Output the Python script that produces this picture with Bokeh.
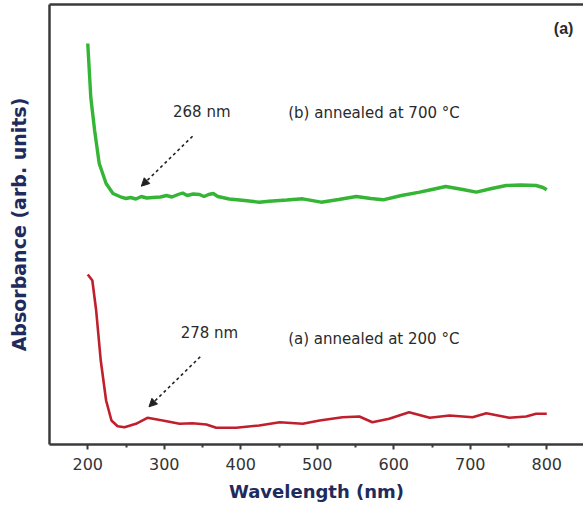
import numpy as np
from bokeh.plotting import figure
from bokeh.models import LinearAxis, FixedTicker, Range1d, Arrow, NormalHead, Label
from bokeh.embed import file_html
from bokeh.resources import INLINE

# ---- data ----
green_nm = [200, 204, 209, 215, 224, 233, 244, 250, 256, 263, 270, 277, 285, 295, 303, 310,
            318, 324, 330, 338, 346, 352, 358, 364, 370, 385, 405, 424, 437, 460, 481, 505,
            528, 551, 570, 586, 610, 634, 650, 668, 690, 708, 728, 747, 766, 786, 795, 800]
green_abs = [4.01, 3.47, 3.14, 2.81, 2.61, 2.51, 2.473, 2.46, 2.47, 2.455, 2.48, 2.465, 2.47, 2.475, 2.49, 2.475,
             2.50, 2.515, 2.49, 2.505, 2.50, 2.48, 2.50, 2.51, 2.48, 2.455, 2.44, 2.423, 2.433, 2.445, 2.457, 2.423,
             2.45, 2.48, 2.46, 2.447, 2.49, 2.523, 2.55, 2.58, 2.55, 2.523, 2.56, 2.59, 2.595, 2.59, 2.57, 2.547]

red_nm = [200, 206, 211, 217, 224, 231, 239, 248, 263, 278, 298, 320, 337, 355, 368, 394,
          424, 451, 481, 503, 533, 555, 572, 594, 620, 647, 673, 703, 721, 751, 773, 786, 800]
red_abs = [1.70, 1.64, 1.34, 0.84, 0.44, 0.24, 0.183, 0.173, 0.207, 0.267, 0.24, 0.207, 0.213, 0.20, 0.167, 0.167,
           0.19, 0.223, 0.207, 0.24, 0.273, 0.28, 0.223, 0.257, 0.323, 0.267, 0.29, 0.273, 0.313, 0.267, 0.28, 0.307, 0.307]

x_ticks = [200, 300, 400, 500, 600, 700, 800]
x_minor = [250, 350, 450, 550, 650, 750]

peak_nm = [268, 278]
peak_text = ["268 nm", "278 nm"]
sample_text = ["(b) annealed at 700 \u00b0C", "(a) annealed at 200 \u00b0C"]
panel_text = "(a)"

GREEN = "#35b535"
RED = "#c01f2c"
AXIS = "#3a3a3a"
NAVY = "#1e2b5c"

p = figure(width=583, height=507, output_backend="svg", toolbar_location=None,
           x_range=Range1d(150, 848), y_range=Range1d(0, 4.4),
           x_axis_location=None, y_axis_location=None,
           min_border_left=49, min_border_right=0, min_border_top=4, min_border_bottom=63)
p.outline_line_color = None
p.xgrid.visible = False
p.ygrid.visible = False
p.background_fill_color = "white"
p.border_fill_color = "white"

xaxis = LinearAxis(ticker=FixedTicker(ticks=x_ticks, minor_ticks=x_minor),
                   axis_label="Wavelength (nm)")
xaxis.axis_line_width = 2.5
xaxis.axis_line_color = AXIS
xaxis.major_tick_line_width = 2
xaxis.major_tick_line_color = AXIS
xaxis.major_tick_in = 0
xaxis.major_tick_out = 5
xaxis.minor_tick_line_width = 2
xaxis.minor_tick_line_color = AXIS
xaxis.minor_tick_in = 0
xaxis.minor_tick_out = 3
xaxis.major_label_text_font = "DejaVu Sans"
xaxis.major_label_text_font_size = "16px"
xaxis.major_label_text_color = "#333333"
xaxis.major_label_standoff = 8
xaxis.axis_label_text_font = "DejaVu Sans"
xaxis.axis_label_text_font_style = "bold"
xaxis.axis_label_text_font_size = "18px"
xaxis.axis_label_text_color = NAVY
xaxis.axis_label_standoff = 8
p.add_layout(xaxis, "below")

yaxis = LinearAxis(ticker=FixedTicker(ticks=[]), axis_label="Absorbance (arb. units)")
yaxis.axis_line_width = 2.5
yaxis.axis_line_color = AXIS
yaxis.major_tick_line_color = None
yaxis.minor_tick_line_color = None
yaxis.major_label_text_font_size = "0px"
yaxis.major_label_standoff = 0
yaxis.axis_label_text_font = "DejaVu Sans"
yaxis.axis_label_text_font_style = "bold"
yaxis.axis_label_text_font_size = "19px"
yaxis.axis_label_text_color = NAVY
yaxis.axis_label_standoff = 20
p.add_layout(yaxis, "left")

top = LinearAxis(ticker=FixedTicker(ticks=[]))
top.axis_line_width = 2.5
top.axis_line_color = AXIS
top.major_tick_line_color = None
top.minor_tick_line_color = None
top.major_label_text_font_size = "0px"
top.major_label_standoff = 0
p.add_layout(top, "above")

p.line(green_nm, green_abs, line_color=GREEN, line_width=3.4)
p.line(red_nm, red_abs, line_color=RED, line_width=2.6)

curves = [(green_nm, green_abs), (red_nm, red_abs)]
for (nm, ab), pk, txt in zip(curves, peak_nm, peak_text):
    yv = float(np.interp(pk, nm, ab))
    tip_x, tip_y = pk + 2, yv + 0.11
    tail_x, tail_y = tip_x + 67, tip_y + 0.5
    p.add_layout(Arrow(end=NormalHead(size=8, fill_color="#222222", line_color="#222222"),
                       x_start=tail_x, y_start=tail_y, x_end=tip_x, y_end=tip_y,
                       line_color="#222222", line_width=1.6, line_dash="3 3"))
    p.add_layout(Label(x=tail_x + 12, y=tail_y + 0.24, text=txt, text_align="center",
                       text_baseline="middle", text_font="DejaVu Sans", text_font_size="15px",
                       text_color="#2a2a2a"))

for (nm, ab), txt, dy in zip(curves, sample_text, [0.86, 0.88]):
    p.add_layout(Label(x=462, y=float(np.interp(250, nm, ab)) + dy, text=txt,
                       text_align="left", text_baseline="middle", text_font="DejaVu Sans",
                       text_font_size="15px", text_color="#2a2a2a"))

p.add_layout(Label(x=822, y=4.16, text=panel_text, text_align="center", text_baseline="middle",
                   text_font="Liberation Sans", text_font_style="bold", text_font_size="16px",
                   text_color="#2a2a2a"))

open("out.html", "w").write(file_html(p, INLINE))
